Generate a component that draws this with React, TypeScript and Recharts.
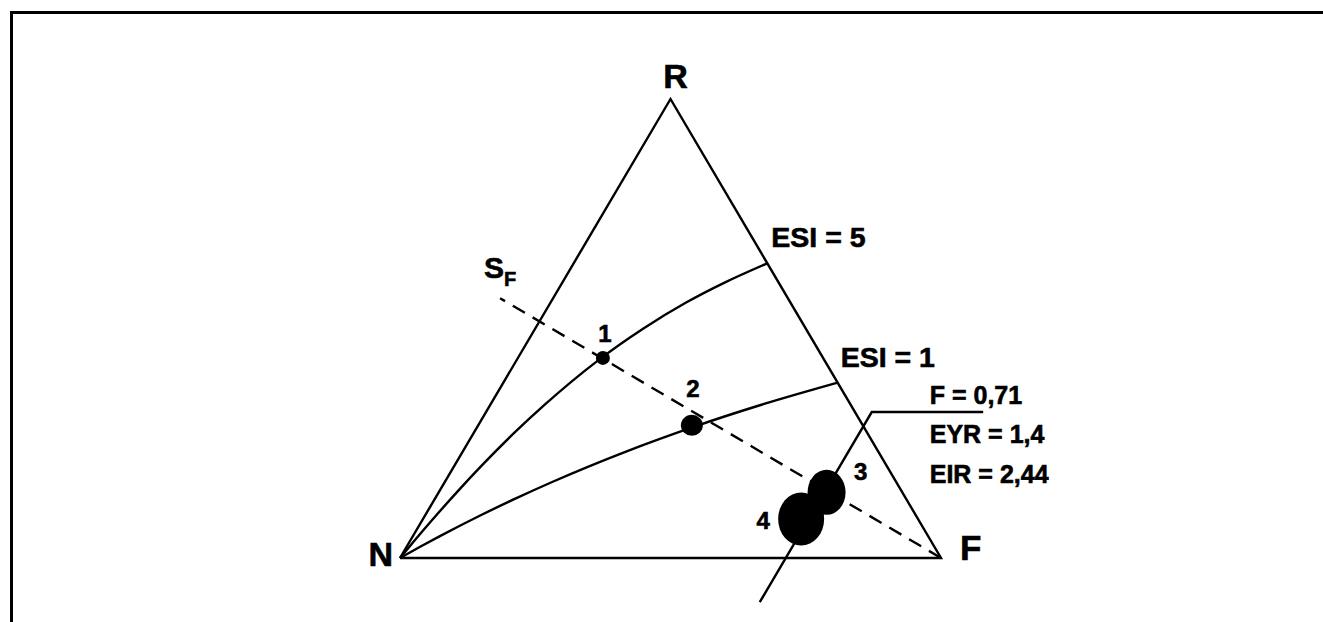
import React from 'react';
import { ComposedChart, Line, Scatter, XAxis, YAxis } from 'recharts';

// ================= DATA (ternary percentages: R, N, F) =================
const VERTEX_NAMES = ['R', 'N', 'F'];
const VERTEX_R = [100, 0, 0];
const VERTEX_N = [0, 100, 0];
const VERTEX_F = [0, 0, 100];
const TRIANGLE_ORDER = [1, 2, 0, 1]; // N -> F -> R -> N

const POINT_IDS = ['1', '2', '3', '4'];
const POINT_R = [43.6, 28.9, 14.3, 8.5];
const POINT_N = [40.7, 31.6, 14.0, 21.6];
const POINT_F = [15.7, 39.5, 71.7, 69.9];

const ESI_LABELS = ['ESI = 5', 'ESI = 1'];
const ESI5_F = [0, 0.5, 1, 2, 3.5, 5, 7.5, 10, 15, 20, 25, 30, 35.8];
const ESI5_R = [0, 2.4, 4.8, 9.1, 14.9, 20, 27.3, 33.3, 42.9, 50, 55.6, 60, 64.2];
const ESI1_F = [0, 1, 2.5, 5, 10, 15, 20, 30, 40, 50, 61.8];
const ESI1_R = [0, 0.99, 2.44, 4.76, 9.09, 13.04, 16.67, 23.08, 28.57, 33.33, 38.2];

const SF_MAIN = 'S';
const SF_SUB = 'F';
const SF_R = [0, 56.6];
const SF_F = [100, -9.8];

const LEADER_R = [-9.6, 31.8, 31.8];
const LEADER_F = [71.3, 71.3, 91.9];

const INDICATOR_NAMES = ['F', 'EYR', 'EIR'];
const INDICATOR_VALUES = ['0,71', '1,4', '2,44'];

// ================= LAYOUT / STYLE =================
const W = 1323;
const H = 622;
const PX_N = 400;
const PX_F = 941;
const PY_BASE = 558;
const PY_APEX = 99;
const SX = PX_F - PX_N;
const SY = PY_BASE - PY_APEX;
const X_DOMAIN = [-PX_N / SX, (W - PX_N) / SX];
const Y_DOMAIN = [-(H - PY_BASE) / SY, PY_BASE / SY];

const FONT = "'Liberation Sans', Arial, Helvetica, sans-serif";
const LINE_W = 2.4;

const VERTEX_STYLE = [
  { dx: 5, dy: -11, anchor: 'middle', size: 34 },
  { dx: -7, dy: 8, anchor: 'end', size: 34 },
  { dx: 19, dy: 2, anchor: 'start', size: 35 },
];
const POINT_RX = [7, 11, 19, 23];
const POINT_RY = [7, 10.5, 22.5, 26.5];
const POINT_LABEL_OFFSET = [
  { dx: 2, dy: -16 },
  { dx: 1, dy: -28.5 },
  { dx: 34, dy: -12.5 },
  { dx: -38, dy: 10 },
];
const ESI_LABEL_OFFSET = [
  { dx: 4, dy: -16 },
  { dx: 3, dy: -16 },
];
const INDICATOR_OFFSET = [
  { dx: 58, dy: -8 },
  { dx: 58, dy: 31 },
  { dx: 58, dy: 71 },
];

// ================= helpers =================
const toXY = (r: number, f: number) => ({ x: f / 100 + r / 200, y: r / 100 });

const triangleData = TRIANGLE_ORDER.map((i) => toXY(VERTEX_R[i], VERTEX_F[i]));
const esi5Data = ESI5_F.map((f, i) => toXY(ESI5_R[i], f));
const esi1Data = ESI1_F.map((f, i) => toXY(ESI1_R[i], f));
const sfData = SF_R.map((r, i) => toXY(r, SF_F[i]));
const leaderData = LEADER_R.map((r, i) => toXY(r, LEADER_F[i]));

const pointData = POINT_IDS.map((id, i) => ({
  ...toXY(POINT_R[i], POINT_F[i]),
  n: POINT_N[i],
  rx: POINT_RX[i],
  ry: POINT_RY[i],
}));

type Lbl = { x: number; y: number; text: string; dx: number; dy: number; anchor: string; size: number; sub?: string };

const labelData: Lbl[] = [
  ...VERTEX_NAMES.map((name, i) => ({
    ...toXY(VERTEX_R[i], VERTEX_F[i]),
    text: name,
    dx: VERTEX_STYLE[i].dx,
    dy: VERTEX_STYLE[i].dy,
    anchor: VERTEX_STYLE[i].anchor,
    size: VERTEX_STYLE[i].size,
  })),
  ...POINT_IDS.map((id, i) => ({
    ...toXY(POINT_R[i], POINT_F[i]),
    text: id,
    dx: POINT_LABEL_OFFSET[i].dx,
    dy: POINT_LABEL_OFFSET[i].dy,
    anchor: 'middle',
    size: 24,
  })),
  { ...esi5Data[esi5Data.length - 1], text: ESI_LABELS[0], dx: ESI_LABEL_OFFSET[0].dx, dy: ESI_LABEL_OFFSET[0].dy, anchor: 'start', size: 28.5 },
  { ...esi1Data[esi1Data.length - 1], text: ESI_LABELS[1], dx: ESI_LABEL_OFFSET[1].dx, dy: ESI_LABEL_OFFSET[1].dy, anchor: 'start', size: 28.5 },
  { ...sfData[sfData.length - 1], text: SF_MAIN, sub: SF_SUB, dx: -16, dy: -20, anchor: 'start', size: 30 },
  ...INDICATOR_NAMES.map((name, i) => ({
    ...leaderData[1],
    text: `${name} = ${INDICATOR_VALUES[i]}`,
    dx: INDICATOR_OFFSET[i].dx,
    dy: INDICATOR_OFFSET[i].dy,
    anchor: 'start',
    size: 25,
  })),
];

const EllipseShape = (props: any) => {
  const { cx, cy, payload } = props;
  if (cx == null || cy == null) return null;
  return <ellipse cx={cx} cy={cy} rx={payload.rx} ry={payload.ry} fill="#000" />;
};

const TextShape = (props: any) => {
  const { cx, cy, payload } = props;
  if (cx == null || cy == null) return null;
  const p = payload as Lbl;
  return (
    <text
      x={cx + p.dx}
      y={cy + p.dy}
      textAnchor={p.anchor as any}
      fontFamily={FONT}
      fontWeight="bold"
      fontSize={p.size}
      fill="#000"
      stroke="#000"
      strokeWidth={0.6}
    >
      {p.text}
      {p.sub ? (
        <tspan fontSize={20} dy={8}>
          {p.sub}
        </tspan>
      ) : null}
    </text>
  );
};

export default function App() {
  return (
    <div style={{ position: 'absolute', left: 0, top: 0, width: W, height: H, background: '#fff', overflow: 'hidden' }}>
      <div
        style={{
          position: 'absolute',
          left: 10,
          top: 11,
          width: 1400,
          height: 700,
          borderTop: '3px solid #000',
          borderLeft: '3px solid #000',
        }}
      />
      <div style={{ position: 'absolute', left: 0, top: 0 }}>
        <ComposedChart width={W} height={H} margin={{ top: 0, right: 0, bottom: 0, left: 0 }}>
          <XAxis type="number" dataKey="x" domain={X_DOMAIN} allowDataOverflow hide />
          <YAxis type="number" dataKey="y" domain={Y_DOMAIN} allowDataOverflow hide />
          <Line data={triangleData} dataKey="y" type="linear" stroke="#000" strokeWidth={LINE_W} dot={false} activeDot={false} isAnimationActive={false} />
          <Line data={esi5Data} dataKey="y" type="monotone" stroke="#000" strokeWidth={LINE_W} dot={false} activeDot={false} isAnimationActive={false} />
          <Line data={esi1Data} dataKey="y" type="monotone" stroke="#000" strokeWidth={LINE_W} dot={false} activeDot={false} isAnimationActive={false} />
          <Line data={sfData} dataKey="y" type="linear" stroke="#000" strokeWidth={LINE_W} strokeDasharray="14 9" dot={false} activeDot={false} isAnimationActive={false} />
          <Line data={leaderData} dataKey="y" type="linear" stroke="#000" strokeWidth={LINE_W} dot={false} activeDot={false} isAnimationActive={false} />
          <Scatter data={pointData} dataKey="y" shape={<EllipseShape />} isAnimationActive={false} />
          <Scatter data={labelData} dataKey="y" shape={<TextShape />} isAnimationActive={false} />
        </ComposedChart>
      </div>
    </div>
  );
}
